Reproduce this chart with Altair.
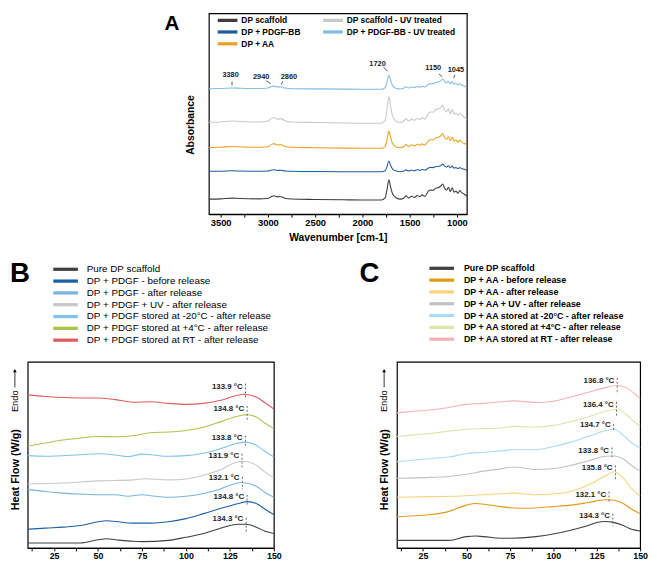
import altair as alt
import pandas as pd

FONT = "Liberation Sans"

# ---------------- Panel A (FTIR) ----------------
A_WN = [3625, 3500, 3380, 3300, 3100, 3000, 2960, 2940, 2900, 2860, 2820, 2750, 2500, 2200, 2000,
        1800, 1760, 1740, 1720, 1700, 1680, 1640, 1600, 1560, 1540, 1510, 1480, 1450, 1420, 1390,
        1370, 1340, 1300, 1280, 1250, 1230, 1200, 1170, 1150, 1130, 1110, 1090, 1070, 1050, 1030,
        1010, 990, 970, 950, 920, 895]
# legend is filled column by column: first column, then second column
A_NAMES = ["DP scaffold", "DP + PDGF-BB", "DP + AA",
           "DP scaffold - UV treated", "DP + PDGF-BB - UV treated"]
A_COLORS = ["#3d3d3d", "#1f5d9f", "#e9a227", "#c9c9c9", "#82bde6"]

A_DP = [16.3, 16.6, 17.3, 17.0, 16.6, 17.0, 19.0, 19.7, 18.6, 18.8, 17.3, 16.4, 16.0, 15.6, 15.4,
        15.4, 17.5, 26.0, 35.7, 28.0, 21.5, 17.5, 16.3, 17.5, 19.7, 17.3, 19.3, 18.0, 20.0, 18.7,
        20.7, 19.0, 24.7, 25.7, 25.3, 27.3, 28.0, 29.7, 31.7, 27.3, 25.7, 28.3, 24.0, 28.0, 23.3,
        24.5, 22.3, 25.0, 23.0, 21.3, 19.3]
A_PDGF = [44.7, 44.8, 45.2, 45.0, 44.8, 45.0, 46.0, 46.3, 45.6, 45.8, 45.0, 44.7, 44.5, 44.3, 44.2,
          44.2, 45.2, 49.5, 55.3, 50.5, 47.0, 45.0, 44.3, 45.0, 46.2, 45.0, 46.0, 45.3, 46.3, 45.7,
          46.5, 46.0, 48.0, 48.7, 48.5, 49.3, 49.7, 50.5, 52.0, 50.0, 49.0, 50.3, 48.3, 50.0, 48.0,
          48.5, 47.5, 48.5, 47.5, 46.8, 45.5]
A_AA = [69.0, 69.3, 70.0, 69.7, 69.2, 69.8, 72.2, 73.0, 71.5, 71.8, 70.0, 69.2, 68.8, 68.4, 68.2,
        68.2, 70.0, 77.5, 85.7, 78.5, 73.0, 69.5, 68.8, 70.0, 72.0, 70.0, 71.7, 70.7, 72.3, 71.3,
        72.7, 71.5, 76.0, 77.0, 76.7, 78.5, 79.3, 81.0, 83.3, 79.0, 77.5, 80.0, 76.0, 79.5, 75.5,
        76.5, 74.5, 76.5, 74.5, 73.0, 71.5]
A_DP_UV = [94.7, 95.0, 96.0, 95.6, 95.0, 96.0, 99.0, 99.7, 98.0, 98.5, 96.3, 95.0, 94.5, 94.0, 93.8,
           93.8, 96.5, 108.0, 120.7, 110.0, 101.0, 95.5, 94.5, 96.0, 98.5, 96.0, 98.0, 96.8, 98.8, 97.5,
           99.5, 98.0, 104.0, 105.3, 105.0, 107.3, 108.3, 110.3, 112.3, 107.3, 105.3, 108.5, 103.5, 108.0, 103.0,
           104.3, 101.7, 104.3, 102.0, 99.7, 97.3]
A_PDGF_UV = [129.0, 129.2, 129.8, 129.5, 129.2, 129.8, 131.3, 131.7, 130.7, 131.0, 129.7, 129.0, 128.8, 128.6, 128.5,
             128.5, 130.0, 136.0, 143.0, 137.0, 132.0, 129.2, 128.7, 129.7, 131.0, 129.7, 130.8, 130.2, 131.2, 130.5,
             131.5, 130.8, 133.5, 134.2, 134.0, 135.2, 135.8, 137.0, 139.0, 136.3, 135.2, 136.5, 134.2, 136.2, 133.7,
             134.3, 132.8, 134.0, 132.7, 131.5, 130.0]
A_TICKS = [3500, 3250, 3000, 2750, 2500, 2250, 2000, 1750, 1500, 1250, 1000]

A_PEAK_TEXT = ["3380", "2940", "2860", "1720", "1150", "1045"]
A_PEAK_TX = [3395, 3071, 2778, 1840, 1251, 1010]
A_PEAK_TY = [143.0, 141.3, 141.3, 154.5, 150.0, 148.3]
A_LEAD_X1 = [3380, 3016, 2841, 1777, 1191, 1021]
A_LEAD_X2 = [3380, 2970, 2859, 1735, 1157, 1035]
A_LEAD_Y1 = [136.3, 137.3, 136.7, 151.3, 144.0, 143.3]
A_LEAD_Y2 = [132.3, 134.0, 133.3, 146.7, 141.3, 140.0]

# ---------------- Panel B (DSC, PDGF) ----------------
B_NAMES = ["Pure DP scaffold", "DP + PDGF - before release", "DP + PDGF - after release",
           "DP + PDGF + UV - after release", "DP + PDGF stored at -20°C - after release",
           "DP + PDGF stored at +4°C - after release", "DP + PDGF stored at RT - after release"]
B_COLORS = ["#404040", "#1b5fa6", "#7ab5e0", "#c8c8c8", "#80c3ea", "#a9c64b", "#e05b5e"]
B_T = [
    [10, 40, 50, 55, 60, 70, 75, 90, 100, 110, 120, 125, 130, 134, 140, 145, 150],
    [10, 20, 30, 40, 50, 55, 60, 70, 80, 90, 100, 110, 120, 130, 135, 140, 145, 150],
    [10, 20, 30, 40, 50, 60, 67, 75, 80, 90, 100, 110, 120, 125, 132, 140, 145, 150],
    [10, 30, 50, 70, 77, 90, 100, 110, 120, 127, 132, 138, 145, 150],
    [10, 20, 40, 50, 60, 67, 75, 80, 90, 100, 110, 120, 128, 134, 140, 145, 150],
    [10, 20, 30, 40, 50, 60, 70, 80, 90, 100, 110, 120, 130, 135, 140, 145, 150],
    [10, 20, 30, 40, 50, 60, 70, 80, 90, 100, 110, 120, 128, 133, 140, 145, 150],
]
B_H = [
    [5.3, 5.3, 8.7, 9.7, 8.7, 7.0, 6.7, 8.0, 11.3, 15.3, 21.0, 23.7, 25.0, 25.0, 22.0, 17.7, 15.3],
    [19.7, 21.0, 22.0, 23.7, 27.7, 28.7, 28.0, 26.3, 26.3, 27.7, 31.0, 36.3, 42.0, 47.0, 49.0, 47.0, 41.0, 35.3],
    [62.0, 59.7, 58.0, 57.0, 56.3, 56.3, 54.7, 56.3, 55.3, 53.7, 54.7, 57.7, 62.7, 66.3, 69.3, 65.3, 58.7, 53.7],
    [67.7, 68.7, 71.0, 72.0, 73.3, 72.0, 73.0, 77.0, 83.0, 89.7, 91.7, 89.7, 80.3, 74.3],
    [97.7, 97.0, 98.7, 99.7, 98.3, 96.7, 99.3, 98.7, 97.0, 97.7, 100.3, 105.3, 110.3, 112.0, 108.7, 102.0, 96.3],
    [107.7, 111.0, 114.3, 116.3, 118.0, 117.7, 118.7, 122.0, 122.7, 124.3, 127.7, 133.7, 139.7, 141.0, 138.7, 132.0, 126.3],
    [162.0, 160.3, 159.3, 158.7, 158.7, 157.0, 154.3, 154.7, 153.0, 152.0, 153.0, 156.3, 161.0, 162.7, 159.7, 153.7, 147.0],
]
B_PEAK_TEXT = ["133.9 °C", "134.8 °C", "133.8 °C", "131.9 °C", "132.1 °C", "134.8 °C", "134.3 °C"]
B_PEAK_T = [133.9, 134.8, 133.8, 131.9, 132.1, 134.8, 134.3]
B_PEAK_TY = [170.3, 147.0, 116.3, 97.0, 73.7, 54.3, 30.3]
B_DASH_TOP = [174.0, 150.3, 118.7, 99.7, 75.3, 56.3, 32.0]
B_DASH_BOT = [157.0, 133.7, 107.0, 85.3, 62.0, 43.7, 15.3]

# ---------------- Panel C (DSC, AA) ----------------
C_NAMES = ["Pure DP scaffold", "DP + AA - before release", "DP + AA - after release",
           "DP + AA + UV - after release", "DP + AA stored at -20°C - after release",
           "DP + AA stored at +4°C - after release", "DP + AA stored at RT - after release"]
C_COLORS = ["#404040", "#e09a12", "#f6d37c", "#c2c2c2", "#a9dbf5", "#d9e8a9", "#f5b1b9"]
C_T = [
    [10, 40, 50, 55, 60, 70, 75, 90, 100, 110, 120, 125, 130, 134, 140, 145, 150],
    [10, 20, 30, 40, 50, 55, 60, 70, 80, 90, 100, 110, 120, 130, 134, 140, 145, 150],
    [10, 30, 50, 60, 70, 77, 90, 100, 110, 120, 130, 135, 140, 145, 150],
    [10, 30, 40, 50, 60, 70, 77, 90, 100, 110, 120, 130, 135, 140, 145, 150],
    [10, 20, 30, 40, 50, 60, 70, 77, 90, 100, 110, 120, 130, 135, 140, 145, 150],
    [10, 20, 30, 40, 50, 60, 70, 77, 90, 100, 110, 120, 130, 137, 142, 147, 150],
    [10, 20, 30, 40, 50, 60, 70, 77, 90, 100, 110, 120, 130, 137, 142, 147, 150],
]
C_H = [
    [8.0, 8.0, 12.0, 12.7, 12.0, 10.3, 10.3, 12.0, 14.7, 18.7, 23.7, 27.0, 28.0, 27.3, 24.0, 19.7, 18.0],
    [33.0, 34.0, 35.3, 38.7, 45.3, 47.0, 46.3, 43.7, 42.0, 42.3, 43.7, 45.3, 48.0, 51.0, 50.7, 47.3, 41.3, 36.3],
    [53.7, 54.3, 55.3, 56.3, 57.3, 58.0, 56.3, 57.0, 59.7, 66.3, 76.3, 80.7, 74.7, 63.0, 54.7],
    [73.7, 74.7, 75.7, 78.0, 81.3, 83.7, 85.7, 83.0, 84.0, 87.3, 92.0, 97.0, 97.3, 94.7, 87.3, 81.3],
    [91.3, 93.0, 94.7, 96.3, 99.7, 101.3, 102.7, 104.0, 104.0, 107.3, 112.0, 118.0, 124.0, 125.7, 119.7, 111.3, 105.7],
    [118.0, 119.7, 121.3, 123.7, 125.7, 126.3, 127.0, 128.7, 128.0, 129.7, 133.7, 138.7, 144.7, 147.0, 141.3, 133.0, 128.7],
    [143.0, 144.7, 146.3, 148.7, 152.0, 153.0, 154.7, 155.7, 154.0, 155.3, 159.7, 164.7, 169.7, 172.0, 169.7, 163.0, 158.0],
]
C_PEAK_TEXT = ["136.8 °C", "136.4 °C", "134.7 °C", "133.8 °C", "135.8 °C", "132.1 °C", "134.3 °C"]
C_PEAK_T = [136.8, 136.4, 134.7, 133.8, 135.8, 132.1, 134.3]
C_PEAK_TY = [176.3, 151.3, 129.7, 103.0, 84.7, 56.3, 33.7]
C_DASH_TOP = [180.0, 154.7, 131.3, 106.3, 87.3, 59.7, 36.3]
C_DASH_BOT = [163.0, 138.0, 124.7, 96.3, 71.3, 48.0, 23.0]

DSC_TICKS = [12.5, 25, 37.5, 50, 62.5, 75, 87.5, 100, 112.5, 125, 137.5, 150]

# ---------------- helpers ----------------
def text_layer(txt, x, y, size, weight="bold", align="left", baseline="alphabetic", angle=0):
    return alt.Chart(pd.DataFrame({"t": [txt]})).mark_text(
        font=FONT, fontSize=size, fontWeight=weight, align=align, baseline=baseline,
        angle=angle, color="black"
    ).encode(x=alt.value(x), y=alt.value(y), text="t:N")


def legend(x, y, size, weight, path, offset, columns=1, colpad=10, rowpad=-3.5):
    return alt.Legend(orient="none", legendX=x, legendY=y, title=None, columns=columns,
                      symbolType=path, symbolSize=36, symbolStrokeWidth=3.3,
                      labelFont=FONT, labelFontSize=size, labelFontWeight=weight,
                      labelColor="black", labelOffset=offset, rowPadding=rowpad,
                      columnPadding=colpad, padding=0, labelLimit=400)


# ---------------- chart A ----------------
rowsA = []
for name, vals in zip(A_NAMES, [A_DP, A_PDGF, A_AA, A_DP_UV, A_PDGF_UV]):
    for w, v in zip(A_WN, vals):
        rowsA.append({"wn": w, "absb": v, "series": name})
dfA = pd.DataFrame(rowsA)

xA = alt.X("wn:Q", scale=alt.Scale(domain=[3625, 895], nice=False, zero=False),
           axis=alt.Axis(values=A_TICKS, tickCount=50, format="d", labelOverlap=False,
                         labelFlush=False,
                         labelExpr="datum.value % 500 == 0 ? datum.label : ''",
                         title="Wavenumber [cm-1]", titleFontSize=10.5, titlePadding=5,
                         labelFontSize=9.5, tickSize=3, labelPadding=1, grid=False))
yA = alt.Y("absb:Q", scale=alt.Scale(domain=[1, 206], nice=False, zero=False),
           axis=alt.Axis(title="Absorbance", labels=False, ticks=False, domain=False,
                         grid=False, titleFontSize=10.5, titlePadding=14, titleY=113))

linesA = alt.Chart(dfA).mark_line(strokeWidth=1.1, interpolate="monotone").encode(
    x=xA, y=yA,
    color=alt.Color("series:N", sort=A_NAMES,
                    scale=alt.Scale(domain=A_NAMES, range=A_COLORS),
                    legend=legend(7, 2, 8.5, "bold", "M-1,0H5.67", 16, columns=2, colpad=15,
                                  rowpad=-6)),
    detail="series:N",
)
dfA_lab = pd.DataFrame({"t": A_PEAK_TEXT, "wn": A_PEAK_TX, "absb": A_PEAK_TY})
labA = alt.Chart(dfA_lab).mark_text(font=FONT, fontSize=7.5, fontWeight="bold", color="#222").encode(
    x="wn:Q", y="absb:Q", text="t:N")
dfA_lead = pd.DataFrame({"wn": A_LEAD_X1, "wn2": A_LEAD_X2, "absb": A_LEAD_Y1, "absb2": A_LEAD_Y2})
leadA = alt.Chart(dfA_lead).mark_rule(color="#333", strokeWidth=0.8).encode(
    x="wn:Q", x2="wn2:Q", y="absb:Q", y2="absb2:Q")
letterA = text_layer("A", -45, 0, 21, baseline="top")

chartA = alt.layer(linesA, leadA, labA, letterA).properties(width=262, height=204)

# invisible spacer that shifts panel A to the right
spacer = alt.Chart(pd.DataFrame({"t": [0]})).mark_point(opacity=0, size=1).encode(
    x=alt.value(5), y=alt.value(5)
).properties(width=118, height=10, view=alt.ViewBackground(stroke="transparent", strokeWidth=0))

top = alt.hconcat(spacer, chartA, spacing=20).resolve_scale(
    color="independent").resolve_legend(color="independent")


# ---------------- DSC panels ----------------
def dsc_chart(names, colors, Ts, Hs, ptext, pt, pty, dtop, dbot, letter, letter_x,
              leg_x, leg_y, leg_w, leg_size, leg_off, width):
    rows = []
    for name, ts, hs in zip(names, Ts, Hs):
        for t, h in zip(ts, hs):
            rows.append({"T": t, "hf": h, "series": name})
    df = pd.DataFrame(rows)
    x = alt.X("T:Q", scale=alt.Scale(domain=[10, 150], nice=False, zero=False),
              axis=alt.Axis(values=DSC_TICKS, tickCount=50, format="d", labelOverlap=False,
                            labelFlush=False,
                            labelExpr="datum.value % 25 == 0 ? datum.label : ''",
                            title=None, labelFontSize=9, tickSize=3, labelPadding=1, grid=False))
    y = alt.Y("hf:Q", scale=alt.Scale(domain=[0, 197], nice=False, zero=False),
              axis=alt.Axis(title="Heat Flow (W/g)", labels=False, ticks=False, domain=False,
                            grid=False, titleFontSize=11, titlePadding=7.5, titleY=109))
    lines = alt.Chart(df).mark_line(strokeWidth=1.1, interpolate="monotone").encode(
        x=x, y=y,
        color=alt.Color("series:N", sort=names, scale=alt.Scale(domain=names, range=colors),
                        legend=legend(leg_x, leg_y, leg_size, leg_w, "M-1,0H7.33", leg_off)),
        detail="series:N",
    )
    dfl = pd.DataFrame({"t": ptext, "T": pt, "hf": pty, "top": dtop, "bot": dbot})
    labels = alt.Chart(dfl).mark_text(font=FONT, fontSize=8, fontWeight="bold", align="right",
                                      dx=-3, color="#222").encode(x="T:Q", y="hf:Q", text="t:N")
    dashes = alt.Chart(dfl).mark_rule(color="#555", strokeWidth=0.9, strokeDash=[2, 2]).encode(
        x="T:Q", y="top:Q", y2="bot:Q")
    let = text_layer(letter, letter_x, -81, 28)
    endo = text_layer("Endo", -13, 40, 9.5, weight="normal", align="center", baseline="middle", angle=270)
    arrow = alt.Chart(pd.DataFrame({"t": [0]})).mark_rule(color="black", strokeWidth=0.8).encode(
        x=alt.value(-13), y=alt.value(10), y2=alt.value(26))
    head = alt.Chart(pd.DataFrame({"t": [0]})).mark_point(shape="triangle-up", filled=True,
                                                          color="black", size=14, opacity=1).encode(
        x=alt.value(-13), y=alt.value(9))
    return alt.layer(lines, dashes, labels, let, endo, arrow, head).properties(width=width, height=189)


chartB = dsc_chart(B_NAMES, B_COLORS, B_T, B_H, B_PEAK_TEXT, B_PEAK_T, B_PEAK_TY, B_DASH_TOP,
                   B_DASH_BOT, "B", -18, 24, -99, "normal", 10, 26, 250)
chartC = dsc_chart(C_NAMES, C_COLORS, C_T, C_H, C_PEAK_TEXT, C_PEAK_T, C_PEAK_TY, C_DASH_TOP,
                   C_DASH_BOT, "C", -38, 31, -100, "bold", 9, 27, 247)

bottom = alt.hconcat(chartB, chartC, spacing=77).resolve_scale(
    color="independent").resolve_legend(color="independent")

chart = alt.vconcat(top, bottom, spacing=16).resolve_scale(
    color="independent").resolve_legend(color="independent").properties(
    padding=0, background="white"
).configure_view(stroke="black", strokeWidth=1.2).configure_axis(
    labelFont=FONT, titleFont=FONT, labelFontWeight="bold", titleFontWeight="bold",
    labelColor="black", titleColor="black", tickColor="black", domainColor="black",
    domainWidth=1.2, tickWidth=1
)

chart.save("out.html", embed_options={"renderer": "svg", "actions": False})
